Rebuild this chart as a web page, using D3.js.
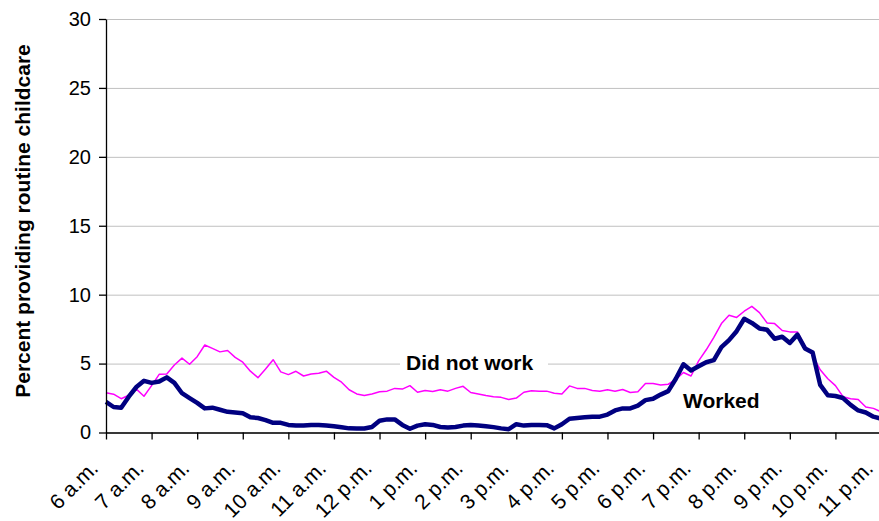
<!DOCTYPE html>
<meta charset="utf-8">
<style>

body {
  margin: 0;
  background: #fff;
}

svg {
  display: block;
  font-family: "Liberation Sans", Arial, sans-serif;
}

.grid line {
  stroke: #c0c0c0;
  stroke-width: 1;
}

.grid .domain {
  display: none;
}

.axis path,
.axis line {
  stroke: #000;
  stroke-width: 1.3;
}

.axis text {
  fill: #000;
  font-size: 20px;
}

.series {
  fill: none;
  stroke-linejoin: round;
}

</style>
<svg width="879" height="521"></svg>
<script src="https://d3js.org/d3.v7.min.js"></script>
<script>

// clock hours on the category axis, one tick per hour
var hourLabels = ["6 a.m.", "7 a.m.", "8 a.m.", "9 a.m.", "10 a.m.", "11 a.m.",
  "12 p.m.", "1 p.m.", "2 p.m.", "3 p.m.", "4 p.m.", "5 p.m.",
  "6 p.m.", "7 p.m.", "8 p.m.", "9 p.m.", "10 p.m.", "11 p.m."];

var yTicks = [0, 5, 10, 15, 20, 25, 30];

// one value every 10 minutes starting at 6 a.m.
var stepMinutes = 10;

var worked = [
  2.22, 1.85, 1.8, 2.6, 3.3, 3.75, 3.6, 3.7, 4.0, 3.6,
  2.85, 2.5, 2.15, 1.75, 1.8, 1.65, 1.5, 1.45, 1.4, 1.1,
  1.05, 0.9, 0.7, 0.7, 0.55, 0.5, 0.5, 0.55, 0.55, 0.5,
  0.45, 0.38, 0.3, 0.29, 0.29, 0.4, 0.85, 0.95, 0.95, 0.55,
  0.27, 0.5, 0.6, 0.55, 0.4, 0.36, 0.4, 0.5, 0.55, 0.5,
  0.45, 0.39, 0.3, 0.24, 0.6, 0.5, 0.55, 0.55, 0.53, 0.3,
  0.6, 1.0, 1.06, 1.1, 1.15, 1.15, 1.3, 1.6, 1.75, 1.75,
  1.95, 2.35, 2.45, 2.75, 3.0, 3.9, 4.95, 4.5, 4.8, 5.1,
  5.25, 6.2, 6.7, 7.35, 8.25, 7.95, 7.55, 7.45, 6.8, 6.95,
  6.5, 7.1, 6.1, 5.8, 3.45, 2.7, 2.65, 2.5, 2.0, 1.6,
  1.45, 1.15, 1.0
];

var didNotWork = [
  2.88, 2.78, 2.45, 2.7, 3.15, 2.63, 3.4, 4.22, 4.25, 4.9,
  5.4, 4.95, 5.5, 6.35, 6.1, 5.85, 5.95, 5.45, 5.1, 4.45,
  3.98, 4.6, 5.28, 4.4, 4.2, 4.44, 4.1, 4.25, 4.3, 4.45,
  4.0, 3.65, 3.1, 2.8, 2.68, 2.8, 2.95, 3.0, 3.2, 3.15,
  3.4, 2.92, 3.05, 2.97, 3.1, 3.0, 3.2, 3.35, 2.9, 2.8,
  2.68, 2.6, 2.55, 2.4, 2.5, 2.92, 3.03, 3.0, 3.0, 2.85,
  2.8, 3.38, 3.2, 3.2, 3.05, 3.0, 3.1, 3.0, 3.12, 2.9,
  2.95, 3.55, 3.55, 3.45, 3.5, 3.85, 4.35, 4.1, 5.2, 6.0,
  6.9, 7.9, 8.5, 8.35, 8.8, 9.15, 8.7, 7.95, 7.9, 7.4,
  7.3, 7.3, 6.25, 5.6, 4.55, 3.9, 3.4, 2.6, 2.45, 2.4,
  1.85, 1.75, 1.5
];

var svg = d3.select("svg");

var x = d3.scaleLinear()
    .domain([0, hourLabels.length - 1])
    .range([106, 881]);

var y = d3.scaleLinear()
    .domain([0, 30])
    .range([432.5, 19]);

// horizontal gridlines
svg.append("g")
    .attr("class", "grid")
    .attr("transform", "translate(106,0)")
    .call(d3.axisLeft(y).tickValues(yTicks).tickSize(-(881 - 106)).tickFormat(""));

var line = d3.line()
    .x(function(d, i) { return x(i * stepMinutes / 60); })
    .y(function(d) { return y(d); });

svg.append("path")
    .datum(didNotWork)
    .attr("class", "series")
    .attr("stroke", "#ff00ff")
    .attr("stroke-width", 1.5)
    .attr("d", line);

svg.append("path")
    .datum(worked)
    .attr("class", "series")
    .attr("stroke", "#000080")
    .attr("stroke-width", 4.5)
    .attr("d", line);

// y axis
svg.append("g")
    .attr("class", "axis")
    .attr("transform", "translate(106,0)")
    .call(d3.axisLeft(y).tickValues(yTicks).tickSize(7).tickPadding(8).tickSizeOuter(0));

// x axis, labels turned 45 degrees and hung from the tick
var xAxis = svg.append("g")
    .attr("class", "axis")
    .attr("transform", "translate(0," + y(0) + ")")
    .call(d3.axisBottom(x)
      .tickValues(d3.range(hourLabels.length))
      .tickFormat(function(d) { return hourLabels[d]; })
      .tickSize(7)
      .tickSizeOuter(0));

xAxis.selectAll(".tick text")
    .attr("y", 0)
    .attr("dy", 0)
    .attr("text-anchor", "end")
    .style("font-size", "21px")
    .attr("transform", "translate(-7,37) rotate(-45)");

svg.append("text")
    .attr("transform", "translate(30,221) rotate(-90)")
    .attr("text-anchor", "middle")
    .attr("font-weight", "bold")
    .attr("font-size", "21px")
    .attr("fill", "#000")
    .text("Percent providing routine childcare");

// series labels
var lab1 = svg.append("g");
lab1.append("rect")
    .attr("x", 400)
    .attr("y", 352)
    .attr("width", 148)
    .attr("height", 24)
    .attr("fill", "#fff");
lab1.append("text")
    .attr("x", 406)
    .attr("y", 370)
    .attr("font-weight", "bold")
    .attr("font-size", "21px")
    .attr("fill", "#000")
    .text("Did not work");

svg.append("text")
    .attr("x", 683)
    .attr("y", 408)
    .attr("font-weight", "bold")
    .attr("font-size", "21px")
    .attr("fill", "#000")
    .text("Worked");

</script>
